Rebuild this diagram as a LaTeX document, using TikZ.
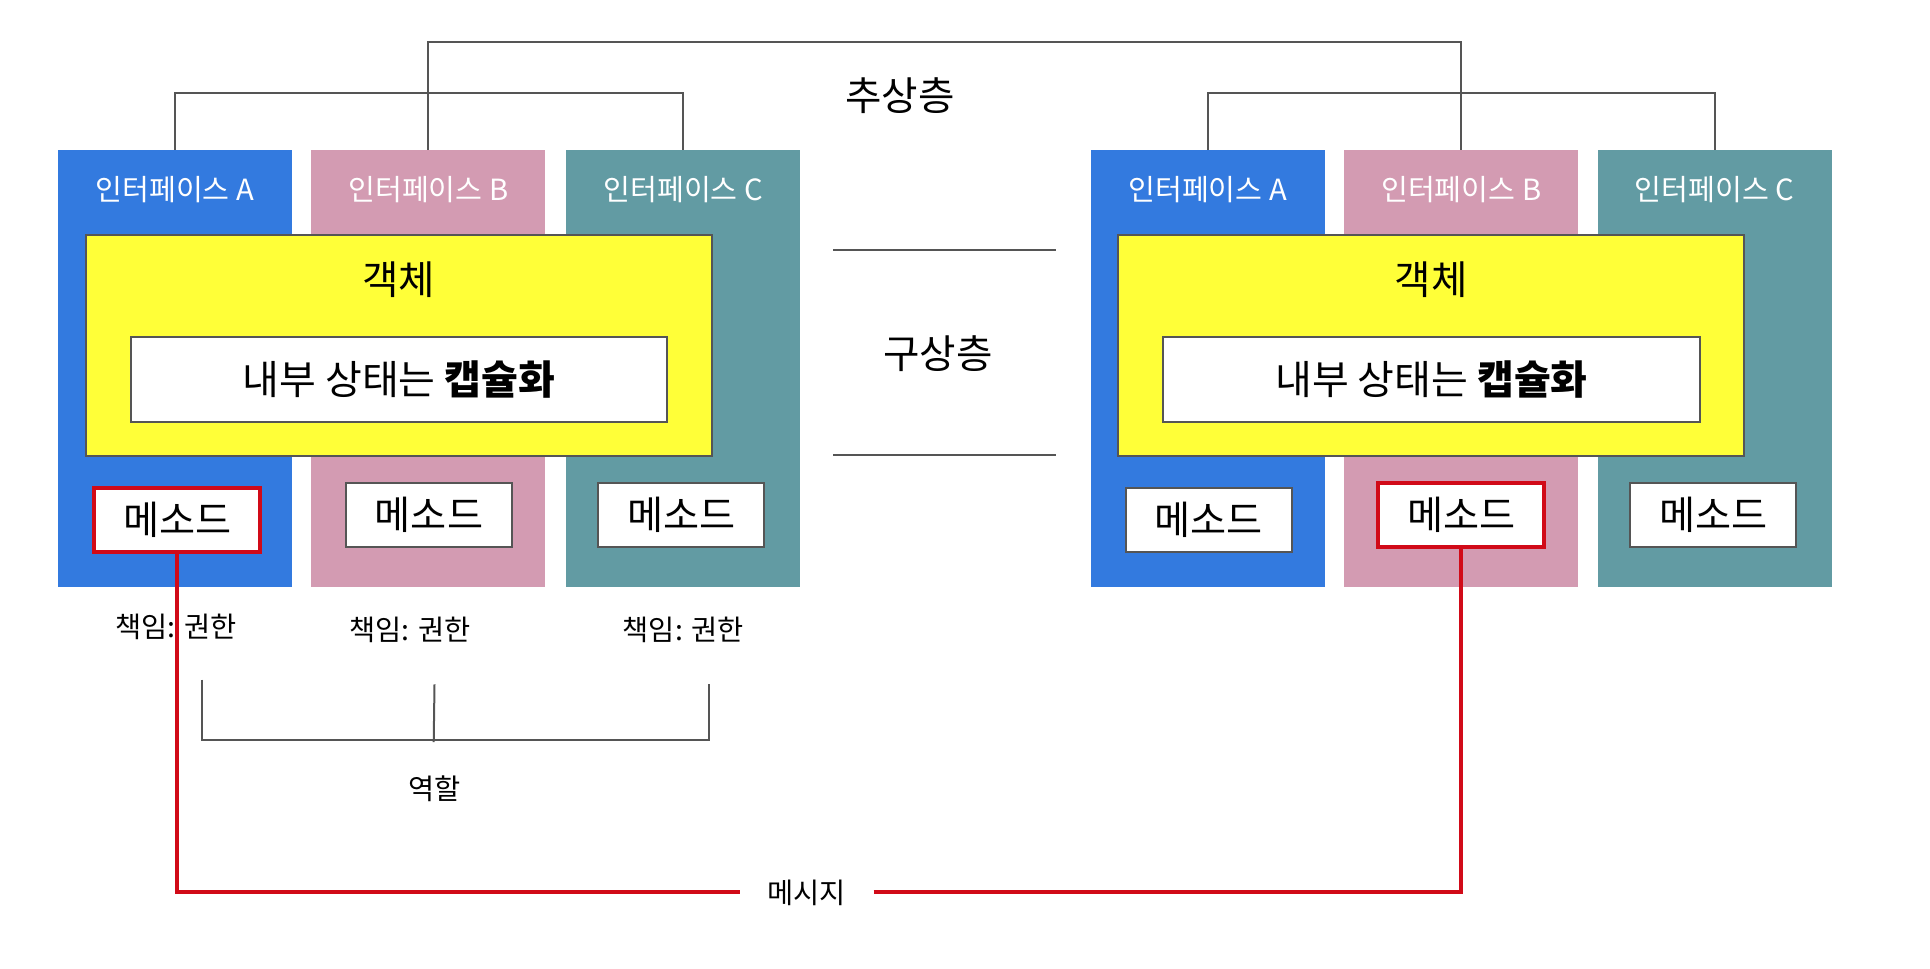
\documentclass[tikz,border=0pt]{standalone}
\usepackage{fontspec}
\setmainfont{Noto Sans CJK KR}
\definecolor{ifblue}{HTML}{337ADF}
\definecolor{ifpink}{HTML}{D39BB2}
\definecolor{ifteal}{HTML}{629BA3}
\definecolor{objyellow}{HTML}{FFFF38}
\definecolor{msgred}{HTML}{D10A18}
\definecolor{linegray}{HTML}{555555}
\tikzset{
  ifbox/.style={minimum width=117pt,minimum height=218.5pt,inner sep=0pt},
  iflabel/.style={text=white,font=\fontsize{14.6}{17}\selectfont},
  objbox/.style={draw=linegray,line width=1pt,fill=objyellow,minimum width=312.6pt,minimum height=110.2pt,inner sep=0pt},
  statebox/.style={draw=linegray,line width=1pt,fill=white,minimum width=268.3pt,minimum height=42.5pt,inner sep=0pt,font=\fontsize{20}{24}\selectfont},
  methodbox/.style={draw=linegray,line width=1pt,fill=white,minimum width=83pt,minimum height=32pt,inner sep=0pt,font=\fontsize{19.6}{23}\selectfont},
  redbox/.style={methodbox,draw=msgred,line width=2pt},
  bigtext/.style={font=\fontsize{19.8}{23}\selectfont},
  smalltext/.style={font=\fontsize{14.2}{17}\selectfont},
  conn/.style={draw=linegray,line width=1pt},
  msgline/.style={draw=msgred,line width=2pt}
}
\begin{document}
\begin{tikzpicture}[x=0.5pt,y=0.5pt]
  \useasboundingbox (0,0) rectangle (1930,-968);
  \node[ifbox,fill=ifblue] (ifA) at (174.8,-368.6) {};
  \node[ifbox,fill=ifpink] (ifB) at (428.4,-368.6) {};
  \node[ifbox,fill=ifteal] (ifC) at (683.2,-368.6) {};
  \node[iflabel] (labA) at ([yshift=-19.8pt]ifA.north) {인터페이스 A};
  \node[iflabel] (labB) at ([yshift=-19.8pt]ifB.north) {인터페이스 B};
  \node[iflabel] (labC) at ([yshift=-19.8pt]ifC.north) {인터페이스 C};
  \node[objbox] (obj) at (398.9,-345.3) {};
  \node[bigtext] (objlab) at ([yshift=-22.8pt]obj.north) {객체};
  \node[statebox] (state) at (398.9,-379.8) {내부 상태는 \textbf{캡슐화}};
  \node[redbox] (mA) at (177.3,-520) {메소드};
  \node[methodbox] (mB) at (429,-514.5) {메소드};
  \node[methodbox] (mC) at (681.3,-514.5) {메소드};

  \node[ifbox,fill=ifblue] (rifA) at (1207.6,-368.6) {};
  \node[ifbox,fill=ifpink] (rifB) at (1461.2,-368.6) {};
  \node[ifbox,fill=ifteal] (rifC) at (1714.7,-368.6) {};
  \node[iflabel] (rlabA) at ([yshift=-19.8pt]rifA.north) {인터페이스 A};
  \node[iflabel] (rlabB) at ([yshift=-19.8pt]rifB.north) {인터페이스 B};
  \node[iflabel] (rlabC) at ([yshift=-19.8pt]rifC.north) {인터페이스 C};
  \node[objbox] (robj) at (1431,-345.3) {};
  \node[bigtext] (robjlab) at ([yshift=-22.8pt]robj.north) {객체};
  \node[statebox] (rstate) at (1431.5,-379.8) {내부 상태는 \textbf{캡슐화}};
  \node[methodbox] (rmA) at (1208.7,-520) {메소드};
  \node[redbox] (rmB) at (1461.1,-514.5) {메소드};
  \node[methodbox] (rmC) at (1713.4,-514.5) {메소드};

  \draw[conn] (ifA.north) -- ++(0,56.5) -| (ifC.north);
  \draw[conn] (rifA.north) -- ++(0,56.5) -| (rifC.north);
  \draw[conn] (ifB.north) -- ++(0,108) -| (rifB.north);
  \node[bigtext] (abstract) at (899.8,-96) {추상층};
  \node[bigtext] (concrete) at (938,-353.3) {구상층};
  \draw[conn] (833.3,-249.9) -- (1056.1,-249.9);
  \draw[conn] (833.3,-455.4) -- (1056.1,-455.4);

  \node[smalltext] (respA) at (176,-626.5) {책임: 권한};
  \node[smalltext] (respB) at (409.9,-630.2) {책임: 권한};
  \node[smalltext] (respC) at (683.2,-630.2) {책임: 권한};
  \draw[conn] (201.9,-679.5) -- (201.9,-739.8) -- (709,-739.8) -- (709,-684.4);
  \draw[conn] (434.5,-684.4) -- (433.7,-742.2);
  \node[smalltext] (role) at (434.5,-789) {역할};

  \node[smalltext,inner xsep=13.5pt] (msg) at (806.9,-892.4) {메시지};
  \draw[msgline] (mA.south) |- (msg.west);
  \draw[msgline] (msg.east) -| (rmB.south);
\end{tikzpicture}
\end{document}
